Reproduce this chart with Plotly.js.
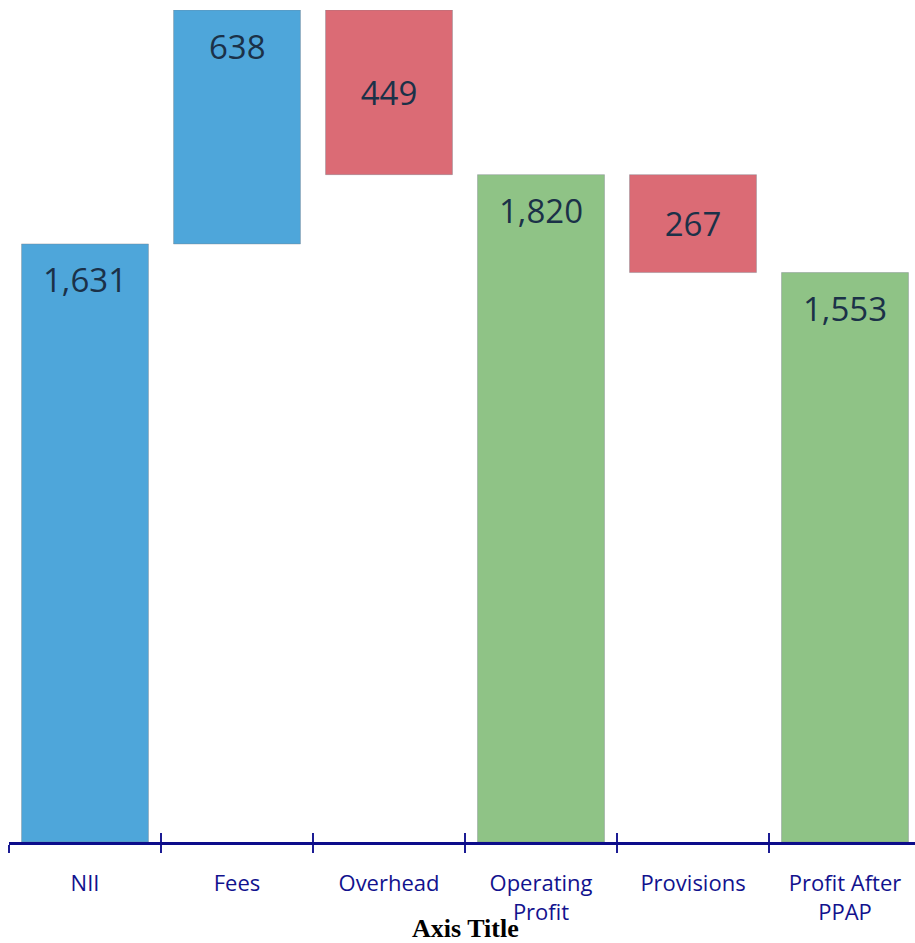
<!DOCTYPE html>
<html>
<head>
<meta charset="utf-8">
<script src="https://cdn.plot.ly/plotly-3.0.1.min.js"></script>
<style>
html,body{margin:0;padding:0;background:#fff;overflow:hidden;}
#chart{width:921px;height:943px;}
</style>
</head>
<body>
<div id="chart"></div>
<script>
// Data
const categories = ["NII", "Fees", "Overhead", "Operating<br>Profit", "Provisions", "Profit After<br>PPAP"];
const values = [1631, 638, 449, 1820, 267, 1553];
const measures = ["absolute", "relative", "relative-neg", "total", "relative-neg", "total"];
const colorMap = {"absolute": "#4ea6da", "relative": "#4ea6da", "relative-neg": "#db6b75", "total": "#8fc386"};

// compute waterfall bases
const bases = [];
let running = 0;
for (let i = 0; i < values.length; i++) {
  const m = measures[i];
  if (m === "absolute") { bases.push(0); running = values[i]; }
  else if (m === "relative") { bases.push(running); running += values[i]; }
  else if (m === "relative-neg") { running -= values[i]; bases.push(running); }
  else { bases.push(0); running = values[i]; }
}

const posIdx = [], negIdx = [];
measures.forEach((m, i) => (m === "relative-neg" ? negIdx : posIdx).push(i));

function sub(arr, idx) { return arr.map((v, i) => idx.includes(i) ? v : null); }

const labelFont = {family: "Open Sans, sans-serif", size: 33, color: "#1b3148"};
const barColors = categories.map((c, i) => colorMap[measures[i]]);
const barLine = {color: "rgba(120,128,138,0.4)", width: 1};

const tracePos = {
  type: "bar", x: categories, width: 0.835,
  y: sub(values, posIdx), base: sub(bases, posIdx),
  marker: {color: barColors, line: barLine},
  hoverinfo: "skip", showlegend: false
};
const traceNeg = {
  type: "bar", x: categories, width: 0.835,
  y: sub(values, negIdx), base: sub(bases, negIdx),
  marker: {color: barColors, line: barLine},
  texttemplate: "%{y:,}", textposition: "inside", insidetextanchor: "middle",
  textangle: 0, constraintext: "none", textfont: labelFont,
  hoverinfo: "skip", showlegend: false
};
const tickHelper = {
  type: "scatter", mode: "markers", x: categories, y: categories.map(() => null),
  xaxis: "x2", yaxis: "y", hoverinfo: "skip", showlegend: false
};

const annotations = posIdx.map(i => ({
  x: categories[i], y: bases[i] + values[i], xref: "x", yref: "y",
  text: values[i].toLocaleString("en-US"), showarrow: false,
  xanchor: "center", yanchor: "middle", yshift: -36, font: labelFont
}));
annotations.push({
  text: "Axis Title", xref: "paper", yref: "paper", x: 0.5, y: -0.104,
  xanchor: "center", yanchor: "middle", showarrow: false,
  font: {family: "Liberation Serif, Times New Roman, serif", size: 26, color: "#000000", weight: "bold"}
});

const layout = {
  width: 921, height: 943,
  margin: {l: 9, r: 0, t: 10, b: 101},
  paper_bgcolor: "#ffffff", plot_bgcolor: "#ffffff",
  barmode: "overlay",
  showlegend: false,
  xaxis: {
    type: "category",
    categoryorder: "array", categoryarray: categories,
    showgrid: false, zeroline: false,
    showline: true, linecolor: "#0c0c8a", linewidth: 2.5,
    ticks: "outside", tickson: "boundaries", ticklen: 8, tickwidth: 2, tickcolor: "#1c1c94",
    tickfont: {family: "Open Sans, sans-serif", size: 22, color: "#12128e"},
    ticklabelstandoff: 20,
    fixedrange: true
  },
  xaxis2: {
    type: "category", overlaying: "x", matches: "x", side: "bottom",
    categoryorder: "array", categoryarray: categories,
    showgrid: false, zeroline: false, showline: false,
    ticks: "inside", tickson: "boundaries", ticklen: 9, tickwidth: 2, tickcolor: "#1c1c94",
    showticklabels: false
  },
  yaxis: {
    range: [0, 2269], visible: false, showgrid: false, zeroline: false, fixedrange: true
  },
  annotations: annotations
};

Plotly.newPlot("chart", [tracePos, traceNeg, tickHelper], layout, {displayModeBar: false, staticPlot: true});
</script>
</body>
</html>
